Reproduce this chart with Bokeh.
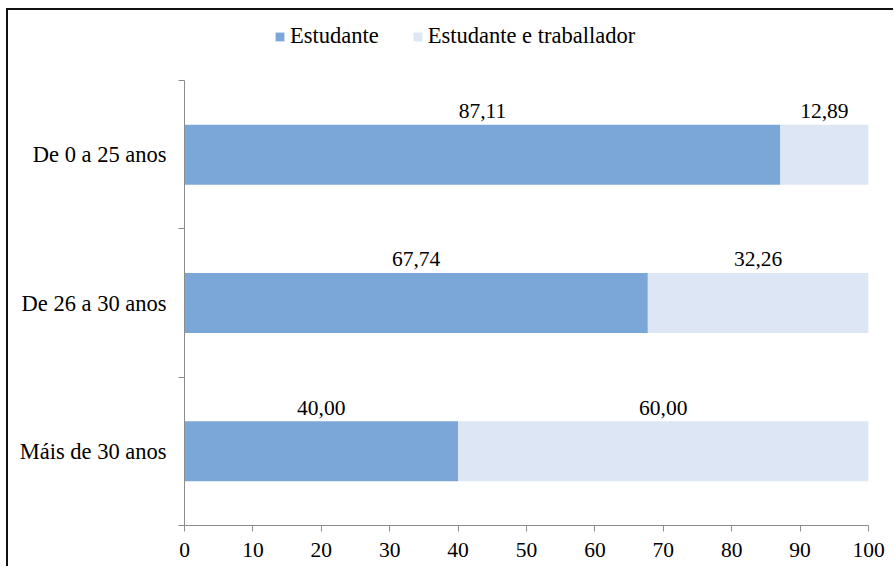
from bokeh.plotting import figure
from bokeh.models import ColumnDataSource, LabelSet, Legend, LegendItem, FixedTicker, Range1d
from bokeh.embed import file_html
from bokeh.resources import INLINE

categories = ["De 0 a 25 anos", "De 26 a 30 anos", "Máis de 30 anos"]
estudante = [87.11, 67.74, 40.00]
traballador = [12.89, 32.26, 60.00]
series_names = ["Estudante", "Estudante e traballador"]
x_ticks = [0, 10, 20, 30, 40, 50, 60, 70, 80, 90, 100]

FONT = "Liberation Serif"
C1 = "#7BA6D8"
C2 = "#DCE6F4"
AXIS = "#8C8C8C"

n = len(categories)
ypos = [n - i - 0.5 for i in range(n)]

# layout: data area 445px tall, frame extends 60px higher to hold the legend
DATA_H = 445
FRAME_H = 505
y_end = n * FRAME_H / DATA_H

src = ColumnDataSource(dict(
    y=ypos,
    e_right=estudante,
    t_left=estudante,
    t_right=[a + b for a, b in zip(estudante, traballador)],
    e_mid=[a / 2 for a in estudante],
    t_mid=[a + b / 2 for a, b in zip(estudante, traballador)],
    e_txt=[f"{v:.2f}".replace(".", ",") for v in estudante],
    t_txt=[f"{v:.2f}".replace(".", ",") for v in traballador],
    top=[y + 0.2 for y in ypos],
))

p = figure(width=885, height=556, output_backend="svg", toolbar_location=None,
           x_range=Range1d(0, 100), y_range=Range1d(0, y_end),
           min_border_left=176, min_border_right=25, min_border_top=10, min_border_bottom=41)
p.frame_width = 684
p.frame_height = FRAME_H
p.styles = {"border-top": "2px solid #111111", "border-left": "2px solid #111111",
            "margin-left": "6px", "margin-top": "8px"}
p.outline_line_color = None
p.xgrid.visible = False
p.ygrid.visible = False
p.background_fill_color = "white"
p.border_fill_color = "white"

r1 = p.hbar(y="y", left=0, right="e_right", height=0.405, source=src,
            fill_color=C1, line_color=None)
r2 = p.hbar(y="y", left="t_left", right="t_right", height=0.405, source=src,
            fill_color=C2, line_color=None)

for col_x, col_t in (("e_mid", "e_txt"), ("t_mid", "t_txt")):
    p.add_layout(LabelSet(x=col_x, y="top", text=col_t, source=src,
                          text_align="center", text_baseline="alphabetic",
                          y_offset=7, text_font=FONT, text_font_size="21.5px",
                          text_color="black"))

# x axis
xa = p.xaxis[0]
xa.ticker = FixedTicker(ticks=x_ticks)
xa.axis_line_color = AXIS
xa.major_tick_line_color = AXIS
xa.major_tick_out = 6
xa.major_tick_in = 0
xa.minor_tick_line_color = None
xa.major_label_text_font = FONT
xa.major_label_text_font_size = "21.5px"
xa.major_label_text_color = "black"
xa.major_label_standoff = 11

# y axis
ya = p.yaxis[0]
ya.bounds = (0, n)
ya.ticker = FixedTicker(ticks=ypos, minor_ticks=list(range(n + 1)))
ya.major_label_overrides = {y: c for y, c in zip(ypos, categories)}
ya.axis_line_color = AXIS
ya.major_tick_line_color = None
ya.major_tick_out = 6
ya.minor_tick_line_color = AXIS
ya.minor_tick_out = 6
ya.minor_tick_in = 0
ya.major_label_text_font = FONT
ya.major_label_text_font_size = "22.5px"
ya.major_label_text_color = "black"
ya.major_label_standoff = 12

legend = Legend(items=[LegendItem(label=series_names[0], renderers=[r1]),
                       LegendItem(label=series_names[1], renderers=[r2])],
                orientation="horizontal", location=(90, 476),
                padding=0, margin=0, spacing=33, label_standoff=5,
                glyph_width=11, glyph_height=11,
                border_line_color=None, background_fill_alpha=0,
                label_text_font=FONT, label_text_font_size="22.5px",
                label_text_color="black")
p.add_layout(legend, "center")

open("out.html", "w").write(file_html(p, INLINE))
